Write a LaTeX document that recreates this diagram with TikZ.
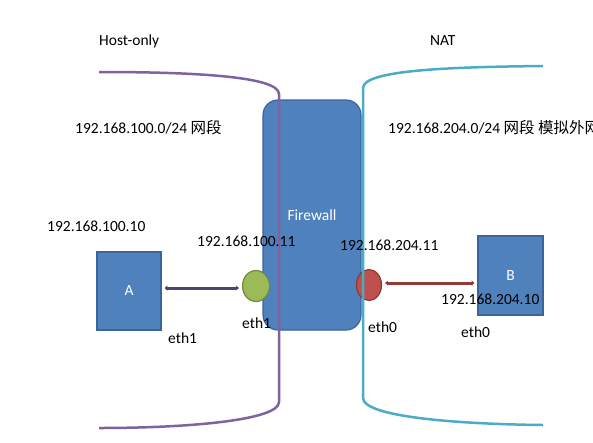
\documentclass[tikz,border=0pt]{standalone}
\usepackage{fontspec}
\setmainfont{Carlito}
\newfontfamily\cjk{Noto Sans CJK SC}
\usepackage{tikz}
\usetikzlibrary{shapes,arrows.meta}

\definecolor{boxblue}{HTML}{4F81BD}
\definecolor{boxline}{HTML}{3A659C}
\definecolor{nicgreen}{HTML}{9BBB59}
\definecolor{nicgreenline}{HTML}{71893F}
\definecolor{nicred}{HTML}{C0504D}
\definecolor{nicredline}{HTML}{8C3836}
\definecolor{hostpurple}{HTML}{7F63A0}
\definecolor{natcyan}{HTML}{4BACC6}
\definecolor{linkA}{HTML}{4E4572}
\definecolor{linkB}{HTML}{953A37}

\begin{document}
\begin{tikzpicture}[x=1pt,y=-1pt]
\tikzstyle{every node}=[font=\fontsize{15.5}{18}\selectfont]
\tikzstyle{lbl}=[anchor=west,inner sep=0pt]
\tikzstyle{hostbox}=[draw=boxline,fill=boxblue,line width=1.2pt,text=white]
\tikzstyle{nic}=[ellipse,line width=1.2pt,inner sep=0pt]
\tikzstyle{link}=[line width=3pt,{Stealth[length=3pt,width=5pt]}-{Stealth[length=3pt,width=5pt]},shorten <=3pt,shorten >=3pt]
\tikzstyle{zone}=[line width=2.5pt]

\useasboundingbox (0,0) rectangle (593,442);
\clip (0,0) rectangle (593,442);

%% Firewall and hosts
\node [hostbox,rounded corners=15pt,minimum width=98pt,minimum height=230pt] (fw) at (312,215) {Firewall};
\node [hostbox,minimum width=64pt,minimum height=78pt] (A) at (129,291) {A};
\node [hostbox,minimum width=65pt,minimum height=79pt] (B) at (510.5,275.5) {B};

%% Interfaces
\node [nic,draw=nicgreenline,fill=nicgreen,minimum width=27pt,minimum height=31pt] (ethA) at (256,286) {};
\node [nic,draw=nicredline,fill=nicred,minimum width=25pt,minimum height=31pt] (ethB) at (369,285) {};

%% Links
\draw [link,draw=linkA,fill=linkA] (ethA.west) ++(0,2) coordinate (ethAin) -- (A.east |- ethAin);
\draw [link,draw=linkB,fill=linkB] (ethB.east) ++(0,-2) coordinate (ethBin) -- (B.west |- ethBin);

%% Network zones
\draw [zone,hostpurple] (99,72) .. controls (190,72) and (279,76) .. (279,94) -- (279,402)
    .. controls (279,420) and (190,428) .. (99,428);
\draw [zone,natcyan] (543,66) .. controls (450,67) and (363,70) .. (363,88) -- (363,398)
    .. controls (363,416) and (450,424) .. (543,425);

%% Labels
\node [lbl] (hostonly) at (99,41) {Host-only};
\node [lbl] (nat) at (430,41) {NAT};
\node [lbl] (netA) at (75,128) {192.168.100.0/24 {\cjk 网段}};
\node [lbl] (netB) at (388,128) {192.168.204.0/24 {\cjk 网段 模拟外网}};
\node [lbl] (ipA) at (47,226) {192.168.100.10};
\node [lbl] (ipfwA) at (197,241) {192.168.100.11};
\node [lbl] (ipfwB) at (340,245) {192.168.204.11};
\node [lbl] (ipB) at (441,299) {192.168.204.10};
\node [lbl] (ethfwA) at (242,323) {eth1};
\node [lbl] (ethhostA) at (168,338) {eth1};
\node [lbl] (ethfwB) at (368,327) {eth0};
\node [lbl] (ethhostB) at (461,332) {eth0};
\end{tikzpicture}
\end{document}
